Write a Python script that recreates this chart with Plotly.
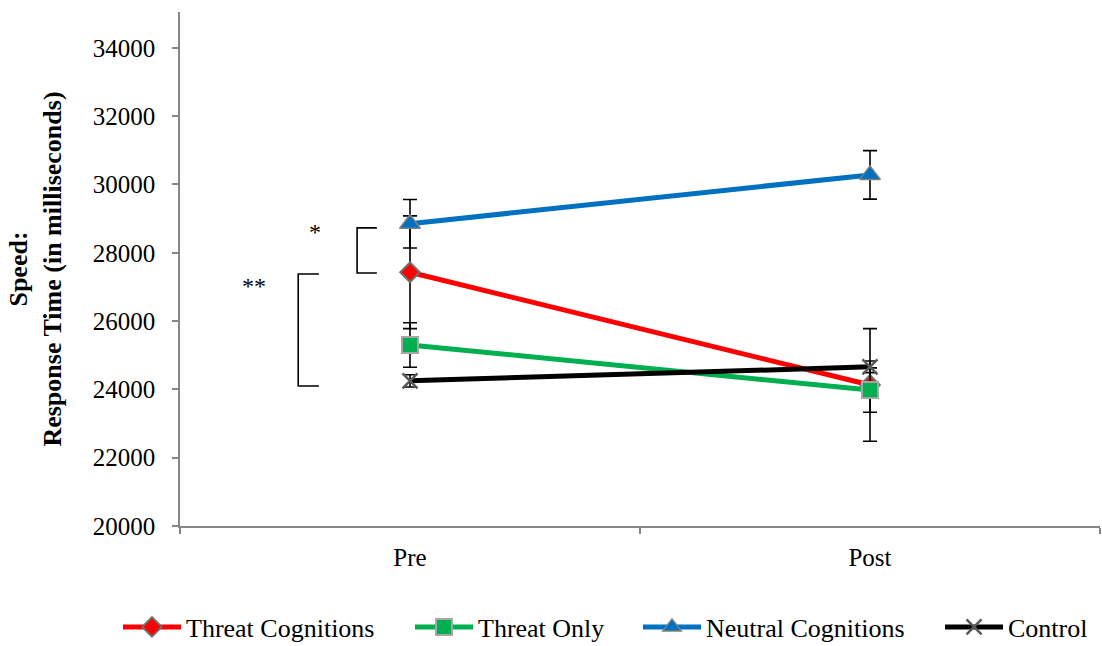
import plotly.graph_objects as go

# Time points
phases = ["Pre", "Post"]

# Mean response times (ms) and standard errors per group
threat_cog = [27430, 24130]
threat_cog_err = [1650, 1650]

threat_only = [25300, 23980]
threat_only_err = [650, 650]

neutral_cog = [28850, 30280]
neutral_cog_err = [710, 710]

control = [24250, 24660]
control_err = [180, 170]

y_ticks = [20000, 22000, 24000, 26000, 28000, 30000, 32000, 34000]

FONT = "Liberation Serif"
AXIS_GREY = "#868686"
W, H = 1102, 646

fig = go.Figure()


def add_group(name, y, err, color, symbol, size, outline, outline_w, legend_id):
    fig.add_trace(go.Scatter(
        x=phases, y=y, name=name, mode="lines+markers",
        line=dict(color=color, width=5),
        marker=dict(symbol=symbol, size=size, color=color,
                    line=dict(color=outline, width=outline_w)),
        error_y=dict(type="data", array=err, visible=True,
                     color="black", thickness=1.6, width=7),
        legend=legend_id,
    ))


add_group("Threat Cognitions", threat_cog, threat_cog_err,
          "#FF0000", "diamond", 15, "#6E6E6E", 2, "legend")
add_group("Threat Only", threat_only, threat_only_err,
          "#00B050", "square", 16, "#A6A6A6", 2, "legend2")
add_group("Neutral Cognitions", neutral_cog, neutral_cog_err,
          "#0070C0", "triangle-up", 18, "#7F7F7F", 1.5, "legend3")
add_group("Control", control, control_err,
          "#000000", "x-thin", 15, "#595959", 2.5, "legend4")

# Significance brackets at the Pre time point
brackets = [
    # (x_vertical, x_stub_end, y_low, y_high)
    (-0.115, -0.072, 27410, 28730),
    (-0.243, -0.198, 24100, 27380),
]
for xv, xs, ylo, yhi in brackets:
    fig.add_shape(type="path",
                  path=f"M {xs} {yhi} L {xv} {yhi} L {xv} {ylo} L {xs} {ylo}",
                  xref="x", yref="y", line=dict(color="black", width=1.6))

fig.add_annotation(x=-0.207, y=28600, text="*", showarrow=False,
                   font=dict(family=FONT, size=24, color="black"))
fig.add_annotation(x=-0.340, y=27040, text="**", showarrow=False,
                   font=dict(family=FONT, size=24, color="black"))

# One legend box per group so the entries sit at fixed positions
legend_starts = [118, 410, 638, 940]
legend_common = dict(orientation="h", xref="container", yref="container",
                     y=19 / H, yanchor="middle", xanchor="left",
                     font=dict(family=FONT, size=26, color="black"),
                     itemwidth=58, bgcolor="rgba(0,0,0,0)")

fig.update_layout(
    width=W, height=H,
    margin=dict(l=180, r=2, t=12, b=120),
    paper_bgcolor="white", plot_bgcolor="white",
    font=dict(family=FONT, size=25, color="black"),
    showlegend=True,
    legend=dict(x=legend_starts[0] / W, **legend_common),
    legend2=dict(x=legend_starts[1] / W, **legend_common),
    legend3=dict(x=legend_starts[2] / W, **legend_common),
    legend4=dict(x=legend_starts[3] / W, **legend_common),
)

fig.update_xaxes(
    range=[-0.5, 1.5], showline=True, linecolor=AXIS_GREY, linewidth=1.5,
    ticks="outside", ticklen=6, tickcolor=AXIS_GREY, tickwidth=1.5,
    tickson="boundaries", showgrid=False, zeroline=False,
    tickfont=dict(family=FONT, size=25), ticklabelstandoff=8,
)
fig.update_yaxes(
    range=[20000, 35050], showline=True, linecolor=AXIS_GREY, linewidth=1.5,
    ticks="outside", ticklen=6, tickcolor=AXIS_GREY, tickwidth=1.5,
    tickvals=y_ticks, ticktext=[str(v) for v in y_ticks],
    showgrid=False, zeroline=False,
    tickfont=dict(family=FONT, size=25), ticklabelstandoff=12,
    title=dict(text="<b>Speed:</b><br><b>Response Time (in milliseconds)</b>",
               font=dict(family=FONT, size=26), standoff=24),
)

fig.write_html("out.html")
